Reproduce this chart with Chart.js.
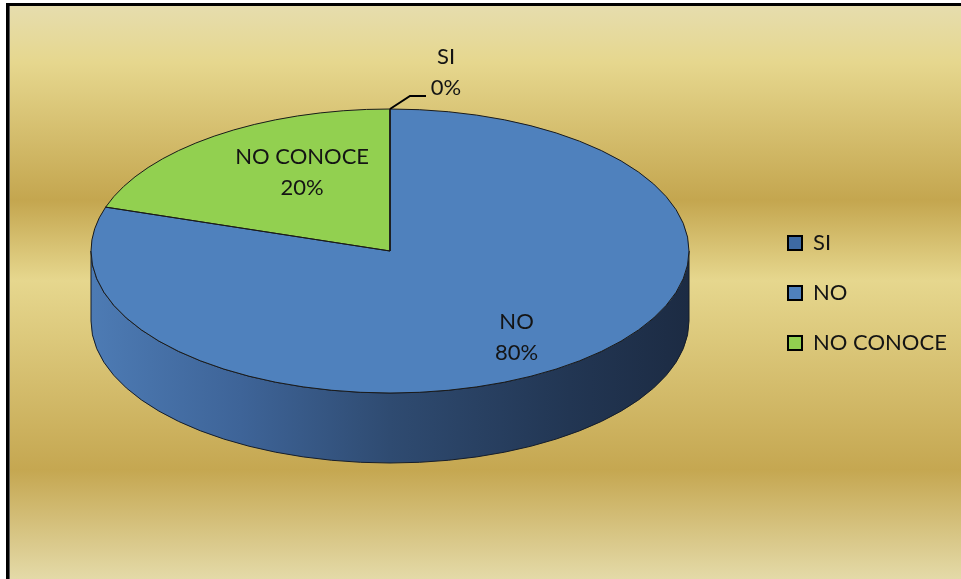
<!DOCTYPE html>
<html>
<head>
<meta charset="utf-8">
<script src="https://cdn.jsdelivr.net/npm/chart.js@4.4.1/dist/chart.umd.min.js"></script>
<style>
  html, body { margin: 0; padding: 0; background: #ffffff; }
  canvas { display: block; }
</style>
</head>
<body>
<canvas id="chart" width="961" height="579"></canvas>
<script>
// Survey answers and their shares (%)
const categories = ['SI', 'NO', 'NO CONOCE'];
const percentages = [0, 80, 20];
const sliceColors = ['#3E6AA3', '#4F81BD', '#92D050'];

const FONT_FAMILY = 'Lato, "Open Sans", sans-serif';
const FONT_SIZE = 22;
const TEXT_COLOR = '#141414';
const TILT = 142 / 299;   // vertical squash of the pie plane
const DEPTH = 70;         // thickness of the 3D pie, px
// where each inside label sits, as a fraction of the radius (x, y)
const labelFraction = [[1, 1], [0.72, 0.75], [0.5, 0.68]];

// gold backdrop with a thin black frame on the top and left edges
const backdrop = {
  id: 'backdrop',
  beforeDraw(chart) {
    const { ctx, width, height } = chart;
    ctx.save();
    ctx.fillStyle = '#ffffff';
    ctx.fillRect(0, 0, width, height);
    const g = ctx.createLinearGradient(0, 5, 0, height);
    g.addColorStop(0.00, '#E6DDAE');
    g.addColorStop(0.10, '#E6D78E');
    g.addColorStop(0.34, '#C4A64F');
    g.addColorStop(0.48, '#E6D78E');
    g.addColorStop(0.81, '#C5A751');
    g.addColorStop(1.00, '#E4DAA8');
    ctx.fillStyle = g;
    ctx.fillRect(9, 6, width - 9, height - 6);
    ctx.fillStyle = '#000000';
    ctx.fillRect(6, 3, width - 6, 3);
    ctx.fillRect(6, 3, 3, height - 3);
    ctx.fillStyle = '#5a5a5a';
    ctx.fillRect(9, 6, 1, height - 6);
    ctx.restore();
  }
};

// turns the flat pie into a tilted disc with a visible side wall
const pie3d = {
  id: 'pie3d',
  beforeDatasetsDraw(chart) {
    const ctx = chart.ctx;
    const arcs = chart.getDatasetMeta(0).data;
    if (!arcs.length) return;
    const cx = arcs[0].x, cy = arcs[0].y;
    const rx = arcs[0].outerRadius, ry = rx * TILT;

    // side wall: only the front half (canvas angles 0..PI) can be seen
    const side = ctx.createLinearGradient(cx - rx, 0, cx + rx, 0);
    side.addColorStop(0.00, '#4D7BB4');
    side.addColorStop(0.25, '#3E6498');
    side.addColorStop(0.50, '#2F4B71');
    side.addColorStop(0.80, '#223653');
    side.addColorStop(1.00, '#1C2B43');
    ctx.save();
    arcs.forEach((arc) => {
      const a1 = Math.max(arc.startAngle, 0);
      const a2 = Math.min(arc.endAngle, Math.PI);
      if (a2 <= a1) return;
      ctx.beginPath();
      ctx.ellipse(cx, cy, rx, ry, 0, a1, a2, false);
      ctx.lineTo(cx + rx * Math.cos(a2), cy + DEPTH + ry * Math.sin(a2));
      ctx.ellipse(cx, cy + DEPTH, rx, ry, 0, a2, a1, true);
      ctx.closePath();
      ctx.fillStyle = side;
      ctx.fill();
      ctx.lineWidth = 1;
      ctx.strokeStyle = '#151d2a';
      ctx.stroke();
    });
    ctx.restore();

    // squash the top face drawn by the library
    ctx.save();
    ctx.translate(0, cy);
    ctx.scale(1, TILT);
    ctx.translate(0, -cy);
  },
  afterDatasetsDraw(chart) {
    const ctx = chart.ctx;
    ctx.restore();
    const arcs = chart.getDatasetMeta(0).data;
    if (!arcs.length) return;
    const cx = arcs[0].x, cy = arcs[0].y;
    const rx = arcs[0].outerRadius, ry = rx * TILT;

    // slice outlines
    ctx.save();
    ctx.lineWidth = 1;
    ctx.strokeStyle = '#1a1a1a';
    arcs.forEach((arc) => {
      ctx.beginPath();
      ctx.moveTo(cx, cy);
      ctx.ellipse(cx, cy, rx, ry, 0, arc.startAngle, arc.endAngle, false);
      ctx.closePath();
      ctx.stroke();
    });

    // data labels: category and percentage
    ctx.fillStyle = TEXT_COLOR;
    ctx.font = `${FONT_SIZE}px ${FONT_FAMILY}`;
    ctx.textAlign = 'center';
    ctx.textBaseline = 'middle';
    const lineGap = 31;
    arcs.forEach((arc, i) => {
      const mid = (arc.startAngle + arc.endAngle) / 2;
      const lines = [categories[i], percentages[i] + '%'];
      if (percentages[i] > 0) {
        const [fx, fy] = labelFraction[i];
        const x = cx + Math.cos(mid) * rx * fx;
        const y = cy + Math.sin(mid) * ry * fy;
        ctx.fillText(lines[0], x, y - lineGap / 2);
        ctx.fillText(lines[1], x, y + lineGap / 2);
      } else {
        // empty slice: label outside with a leader line
        const ax = cx + Math.cos(mid) * rx;
        const ay = cy + Math.sin(mid) * ry;
        ctx.beginPath();
        ctx.lineWidth = 2;
        ctx.strokeStyle = '#000000';
        ctx.moveTo(ax, ay);
        ctx.lineTo(ax + 20, ay - 13);
        ctx.lineTo(ax + 36, ay - 13);
        ctx.stroke();
        ctx.fillText(lines[0], ax + 56, ay - 52);
        ctx.fillText(lines[1], ax + 56, ay - 21);
      }
    });
    ctx.restore();
  }
};

new Chart(document.getElementById('chart'), {
  type: 'pie',
  data: {
    labels: categories,
    datasets: [{
      data: percentages,
      backgroundColor: sliceColors,
      borderWidth: 0,
      radius: 299,
      clip: false
    }]
  },
  options: {
    responsive: false,
    animation: false,
    devicePixelRatio: 1,
    events: [],
    layout: { padding: { left: 20, right: 14, top: 50, bottom: 127 } },
    plugins: {
      tooltip: { enabled: false },
      legend: {
        position: 'right',
        align: 'start',
        maxWidth: 187,
        title: { display: true, text: '', font: { size: 10, lineHeight: 1 }, padding: { top: 144, bottom: 0 } },
        labels: {
          boxWidth: 14,
          boxHeight: 14,
          padding: 28,
          color: TEXT_COLOR,
          font: { family: FONT_FAMILY, size: FONT_SIZE },
          generateLabels: () => categories.map((c, i) => ({
            text: c,
            fillStyle: sliceColors[i],
            strokeStyle: '#000000',
            lineWidth: 2,
            fontColor: TEXT_COLOR,
            hidden: false,
            index: i
          }))
        }
      }
    }
  },
  plugins: [backdrop, pie3d]
});
</script>
</body>
</html>
